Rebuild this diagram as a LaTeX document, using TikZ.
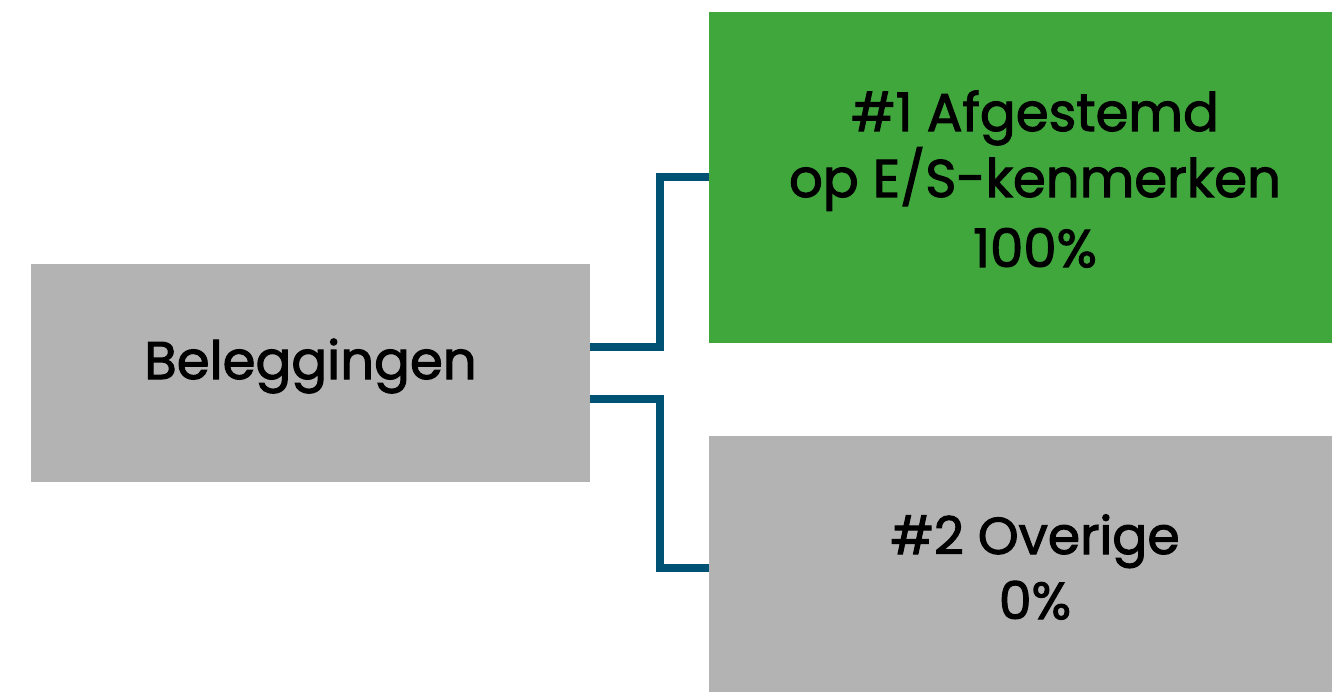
\documentclass[tikz,border=0pt]{standalone}
\usepackage{fontspec}
\setmainfont{Poppins}
\newfontfamily\medfont{Poppins}[FakeBold=2]
\usetikzlibrary{calc}
\definecolor{boxgray}{RGB}{179,179,179}
\definecolor{boxgreen}{RGB}{63,167,59}
\definecolor{linkblue}{RGB}{0,82,117}
\begin{document}
\begin{tikzpicture}[x=1pt,y=-1pt,
  box/.style={rectangle, inner sep=0pt, outer sep=0pt, draw=none},
  lbl/.style={anchor=base, inner sep=0pt, outer sep=0pt, text=black},
  big/.style={font=\medfont\fontsize{53}{60}\selectfont},
  mid/.style={font=\medfont\fontsize{52}{60}\selectfont},
  conn/.style={draw=linkblue, line width=8pt, line join=miter}]
\useasboundingbox (0,0) rectangle (1332,692);
\node[box, fill=boxgray, minimum width=559pt, minimum height=218pt] (beleg) at (310.5,373) {};
\node[box, fill=boxgreen, minimum width=623pt, minimum height=331pt] (aligned) at (1020.5,177.5) {};
\node[box, fill=boxgray, minimum width=623pt, minimum height=256pt] (other) at (1020.5,564) {};
\node[lbl, big] (tbeleg) at (310.5,379) {Beleggingen};
\node[lbl, big] (ta1) at (1035,131) {\#1 Afgestemd};
\node[lbl, big] (ta2) at (1035,197) {op E/S-kenmerken};
\node[lbl, big] (ta3) at (1035,267) {100\%};
\node[lbl, mid] (tb1) at (1035,554) {\#2 Overige};
\node[lbl, mid] (tb2) at (1035,619) {0\%};
\draw[conn] ($(beleg.east)+(0,-26)$) -- ++(70,0) |- (aligned.west);
\draw[conn] ($(beleg.east)+(0,26)$) -- ++(70,0) |- ($(other.west)+(0,4)$);
\end{tikzpicture}
\end{document}
